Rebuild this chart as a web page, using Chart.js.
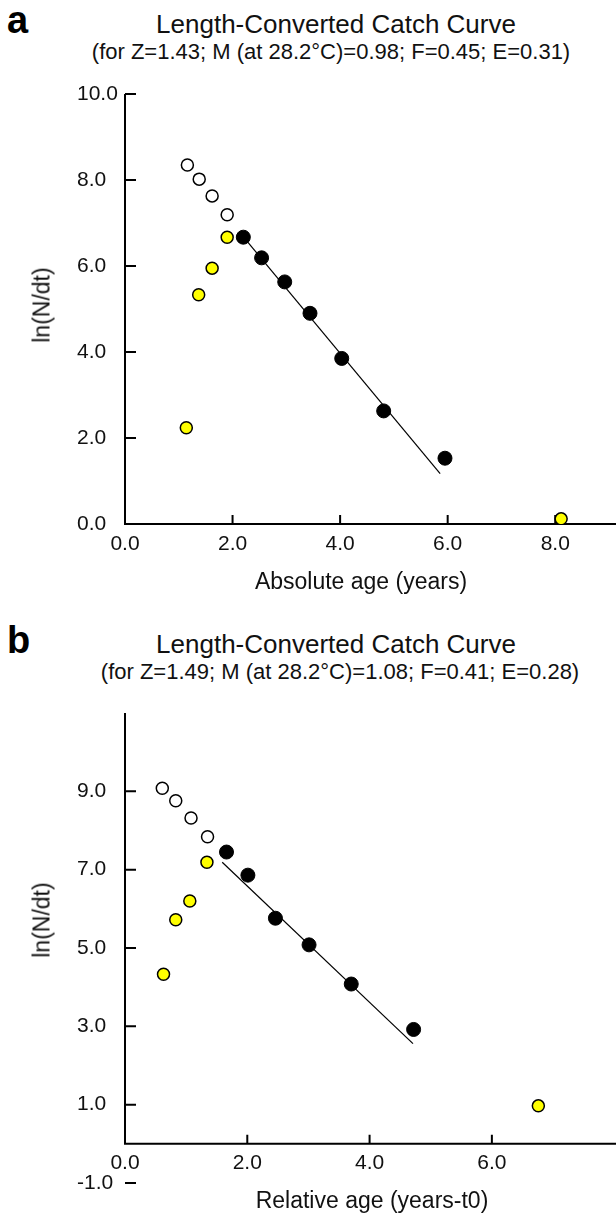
<!DOCTYPE html>
<html>
<head>
<meta charset="utf-8">
<script src="https://cdn.jsdelivr.net/npm/chart.js@4.4.1/dist/chart.umd.min.js"></script>
<style>
  html, body { margin: 0; padding: 0; background: #fff; }
  body { width: 616px; height: 1213px; position: relative; overflow: hidden;
         font-family: "Liberation Sans", Arial, sans-serif; color: #111; }
  canvas { position: absolute; left: 0; }
  .txt { position: absolute; white-space: nowrap; line-height: 1; }
  .panel { font-weight: bold; font-size: 38px; color: #000; }
  .title { font-size: 26px; transform: translateX(-50%); }
  .sub { font-size: 22px; transform: translateX(-50%); }
  .xt { font-size: 23px; transform: translateX(-50%); }
  .yt { font-size: 23px; transform: translate(-50%, -50%) rotate(-90deg); }
</style>
</head>
<body>
<div class="txt panel" style="left:7px; top:1px;">a</div>
<div class="txt title" style="left:336px; top:11px;">Length-Converted Catch Curve</div>
<div class="txt sub" style="left:331px; top:41px;">(for Z=1.43; M (at 28.2°C)=0.98; F=0.45; E=0.31)</div>
<canvas id="chartA" width="616" height="600" style="top:0;"></canvas>
<div class="txt yt" style="left:42px; top:305px;">ln(N/dt)</div>
<div class="txt xt" style="left:361px; top:570px;">Absolute age (years)</div>

<div class="txt panel" style="left:7px; top:621px;">b</div>
<div class="txt title" style="left:336px; top:631px;">Length-Converted Catch Curve</div>
<div class="txt sub" style="left:340px; top:661px;">(for Z=1.49; M (at 28.2°C)=1.08; F=0.41; E=0.28)</div>
<canvas id="chartB" width="616" height="613" style="top:600px;"></canvas>
<div class="txt yt" style="left:42px; top:920px;">ln(N/dt)</div>
<div class="txt xt" style="left:372px; top:1189px;">Relative age (years-t0)</div>

<script>
// panel a: absolute age
const ageOpenA = [1.16, 1.38, 1.62, 1.90];
const lnOpenA = [8.35, 8.02, 7.63, 7.19];
const ageYellowA = [1.14, 1.37, 1.62, 1.90, 8.11];
const lnYellowA = [2.24, 5.33, 5.95, 6.67, 0.12];
const ageBlackA = [2.20, 2.54, 2.97, 3.44, 4.03, 4.81, 5.95];
const lnBlackA = [6.67, 6.19, 5.63, 4.90, 3.85, 2.63, 1.53];
const fitAgeA = [2.24, 5.86];
const fitLnA = [6.62, 1.17];
const xTicksA = [0, 2, 4, 6, 8];
const yTicksA = [0, 2, 4, 6, 8, 10];

// panel b: relative age
const ageOpenB = [0.61, 0.83, 1.08, 1.35];
const lnOpenB = [9.08, 8.76, 8.32, 7.84];
const ageYellowB = [0.63, 0.83, 1.06, 1.34, 6.76];
const lnYellowB = [4.33, 5.72, 6.20, 7.19, 0.97];
const ageBlackB = [1.66, 2.01, 2.46, 3.01, 3.70, 4.72];
const lnBlackB = [7.45, 6.86, 5.76, 5.08, 4.08, 2.92];
const fitAgeB = [1.59, 4.71];
const fitLnB = [7.19, 2.56];
const xTicksB = [0, 2, 4, 6];
const yTicksB = [-1, 1, 3, 5, 7, 9];

const FONT = '"Liberation Sans", Arial, sans-serif';

function pts(xs, ys) {
    return xs.map((v, i) => ({x: v, y: ys[i]}));
}

// axis lines and the short inward tick marks, like the FiSAT plot
const axesPlugin = {
    id: 'fisatAxes',
    beforeDatasetsDraw(chart, args, opts) {
        const {ctx, scales: {x, y}} = chart;
        const x0 = x.getPixelForValue(0);
        const y0 = y.getPixelForValue(0);
        ctx.save();
        ctx.strokeStyle = '#000';
        ctx.lineWidth = 2;
        ctx.beginPath();
        ctx.moveTo(x0, y.getPixelForValue(opts.yTop));
        ctx.lineTo(x0, y0);
        ctx.lineTo(x.right, y0);
        opts.yTicks.forEach(v => {
            const p = y.getPixelForValue(v);
            ctx.moveTo(x0, p);
            ctx.lineTo(x0 + 11, p);
        });
        opts.xTicks.forEach(v => {
            if (v === 0) return;
            const p = x.getPixelForValue(v);
            ctx.moveTo(p, y0);
            ctx.lineTo(p, y0 - 9);
        });
        ctx.stroke();
        ctx.restore();
    }
};

function makeChart(id, d) {
    const ctx = document.getElementById(id).getContext('2d');
    return new Chart(ctx, {
        type: 'scatter',
        data: {
            datasets: [
                {
                    label: 'used',
                    data: pts(d.blackX, d.blackY),
                    pointRadius: 7,
                    pointBackgroundColor: '#000',
                    pointBorderColor: '#000',
                    pointBorderWidth: 1,
                    order: 1
                },
                {
                    label: 'not used',
                    data: pts(d.openX, d.openY),
                    pointRadius: 6,
                    pointBackgroundColor: '#fff',
                    pointBorderColor: '#000',
                    pointBorderWidth: 1.5,
                    order: 2
                },
                {
                    label: 'expected',
                    data: pts(d.yellowX, d.yellowY),
                    pointRadius: 6,
                    pointBackgroundColor: '#ffff00',
                    pointBorderColor: '#000',
                    pointBorderWidth: 1.5,
                    order: 2
                },
                {
                    label: 'regression',
                    data: pts(d.fitX, d.fitY),
                    showLine: true,
                    pointRadius: 0,
                    borderColor: '#000',
                    borderWidth: 1.2,
                    order: 5
                }
            ]
        },
        options: {
            responsive: false,
            animation: false,
            devicePixelRatio: 1,
            layout: {autoPadding: false, padding: d.padding},
            plugins: {
                legend: {display: false},
                tooltip: {enabled: false},
                fisatAxes: {xTicks: d.xTicks, yTicks: d.yTicks, yTop: d.yMax}
            },
            scales: {
                x: {
                    type: 'linear',
                    min: 0,
                    max: d.xMax,
                    position: d.xPos,
                    grid: {display: false, drawTicks: false, tickLength: 0},
                    border: {display: false},
                    afterBuildTicks: s => { s.ticks = d.xTicks.map(v => ({value: v})); },
                    afterFit: s => {
                        s.height = 40;
                        s.paddingLeft = 0;
                        s.paddingRight = 0;
                    },
                    ticks: {
                        padding: d.xPad,
                        maxRotation: 0,
                        color: '#111',
                        font: {family: FONT, size: 21},
                        callback: v => v.toFixed(1)
                    }
                },
                y: {
                    type: 'linear',
                    min: d.yMin,
                    max: d.yMax,
                    grid: {display: false, drawTicks: false, tickLength: 0},
                    border: {display: false},
                    afterBuildTicks: s => { s.ticks = d.yTicks.map(v => ({value: v})); },
                    afterFit: s => { s.width = 48; },
                    ticks: {
                        crossAlign: 'far',
                        padding: 0,
                        color: '#111',
                        font: {family: FONT, size: 21},
                        callback: v => v.toFixed(1)
                    }
                }
            }
        },
        plugins: [axesPlugin]
    });
}

makeChart('chartA', {
    blackX: ageBlackA, blackY: lnBlackA,
    openX: ageOpenA, openY: lnOpenA,
    yellowX: ageYellowA, yellowY: lnYellowA,
    fitX: fitAgeA, fitY: fitLnA,
    xTicks: xTicksA, yTicks: yTicksA,
    xMax: 9.13, yMin: 0, yMax: 10,
    xPos: 'bottom', xPad: 8,
    padding: {top: 94, left: 77, right: 0, bottom: 36}
});

makeChart('chartB', {
    blackX: ageBlackB, blackY: lnBlackB,
    openX: ageOpenB, openY: lnOpenB,
    yellowX: ageYellowB, yellowY: lnYellowB,
    fitX: fitAgeB, fitY: fitLnB,
    xTicks: xTicksB, yTicks: yTicksB,
    xMax: 8.03, yMin: -1, yMax: 11,
    xPos: {y: 0}, xPad: 7,
    padding: {top: 113, left: 77, right: 0, bottom: 30}
});
</script>
</body>
</html>
